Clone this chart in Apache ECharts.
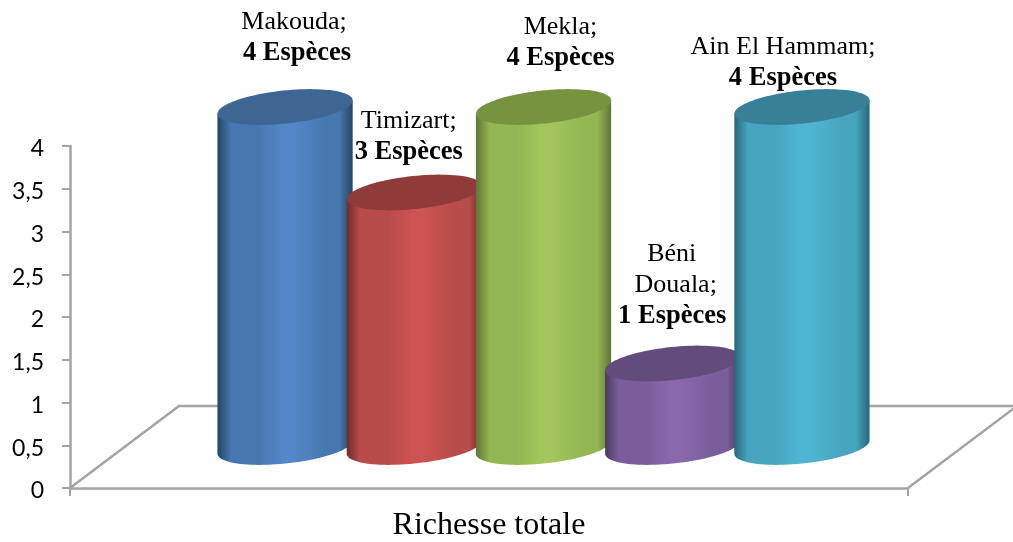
<!DOCTYPE html>
<html>
<head>
<meta charset="utf-8">
<style>html,body{margin:0;padding:0;background:#fff}#c{width:1013px;height:542px}</style>
<script src="https://cdn.jsdelivr.net/npm/echarts@6/dist/echarts.min.js"></script>
</head>
<body>
<div id="c"></div>
<script>
const axisCategory = ['Richesse totale'];
const communes = ['Makouda', 'Timizart', 'Mekla', 'Béni\nDouala', 'Ain El Hammam'];
const especes = [4, 3, 4, 1, 4];
const unite = 'Espèces';
const yTicks = [0, 0.5, 1, 1.5, 2, 2.5, 3, 3.5, 4];

// style: [edge dark, mid, bright, top cap]
const palettes = [
  ['#254666', '#4677ae', '#5387c9', '#3e6693'],
  ['#6e2c2b', '#b84c4b', '#cc5452', '#8e3b39'],
  ['#5f7533', '#93b553', '#a3c55c', '#78933f'],
  ['#49395f', '#7a5e9b', '#8a68ab', '#624c7b'],
  ['#27667a', '#47a5c0', '#50b5d2', '#388097']
];
// label placement relative to the top of each cylinder: name dx, second-line dx, bold dx, bold-line dy
const labelPlace = [[9, 9, 12, -54], [-5.5, -5.5, -5.5, -40], [17, 17, 17, -49], [-1, 3, -0.5, -47.5], [-19, -19, -19, -29]];

const DEPTH_X = 109, DEPTH_Y = -82;
const SPACING = 0.1542, RADIUS = 0.0811, TILT = 6 * Math.PI / 180, RY = 16.5;
const LINE = '#a3a3a3';

function ellipsePt(cx, cy, a, b, t) {
  return [
    cx + a * Math.cos(t) * Math.cos(TILT) + b * Math.sin(t) * Math.sin(TILT),
    cy - a * Math.cos(t) * Math.sin(TILT) + b * Math.sin(t) * Math.cos(TILT)
  ];
}

function renderCylinder(i) {
  return function (params, api) {
    const base = api.coord([api.value(0), 0]);
    const top = api.coord([api.value(0), api.value(1)]);
    const w = api.size([1, 0])[0];
    const cx = base[0] + DEPTH_X / 2 + (i - 2) * SPACING * w;
    const by = base[1] + DEPTH_Y / 2;
    const ty = top[1] + DEPTH_Y / 2 + 2;
    const a = RADIUS * w, b = RY;
    const t0 = Math.atan2(b * Math.sin(TILT), a * Math.cos(TILT));
    const pts = [];
    for (let k = 0; k <= 48; k++) pts.push(ellipsePt(cx, by, a, b, t0 + Math.PI * k / 48));
    pts.push(ellipsePt(cx, ty, a, b, t0 + Math.PI));
    pts.push(ellipsePt(cx, ty, a, b, t0));
    const capPts = [];
    for (let k = 0; k < 96; k++) capPts.push(ellipsePt(cx, ty, a, b, 2 * Math.PI * k / 96));
    const p = palettes[i];
    const grad = {
      type: 'linear', x: 0, y: 0, x2: 1, y2: 0,
      colorStops: [
        { offset: 0, color: p[0] }, { offset: 0.1, color: p[1] },
        { offset: 0.3, color: p[1] }, { offset: 0.48, color: p[2] },
        { offset: 0.56, color: p[2] },
        { offset: 0.8, color: p[1] }, { offset: 0.9, color: p[1] }, { offset: 1, color: p[0] }
      ]
    };
    const pl = labelPlace[i];
    const lines = (communes[i] + ';').split('\n');
    const boldY = ty + pl[3];
    const kids = [
      { type: 'polygon', shape: { points: pts }, style: { fill: grad } },
      { type: 'polygon', shape: { points: capPts }, style: { fill: p[3] } },
      { type: 'text', style: { text: api.value(1) + ' ' + unite, x: cx + pl[2], y: boldY, align: 'center', verticalAlign: 'middle',
          font: 'bold 26.5px "Liberation Serif"', fill: '#000' }, z2: 10 }
    ];
    lines.forEach(function (ln, n) {
      kids.push({ type: 'text', style: { text: ln, x: cx + pl[n === 1 ? 1 : 0], y: boldY - 31 * (lines.length - n),
        align: 'center', verticalAlign: 'middle', font: '26px "Liberation Serif"', fill: '#000' }, z2: 10 });
    });
    return { type: 'group', children: kids };
  };
}

function renderFloor(params, api) {
  const o = api.coord([0, 0]);
  const w = api.size([1, 0])[0];
  const x0 = o[0] - w / 2, y0 = o[1], x1 = o[0] + w / 2;
  return { type: 'group', children: [
    { type: 'polyline', shape: { points: [[x0, y0], [x0 + DEPTH_X, y0 + DEPTH_Y], [x1 + DEPTH_X, y0 + DEPTH_Y], [x1, y0]] },
      style: { stroke: LINE, lineWidth: 2.5, fill: null } }
  ] };
}

const series = [{ type: 'custom', name: 'floor', silent: true, clip: false, renderItem: renderFloor,
  encode: { x: 0, y: 1 }, data: [[0, 0]] }];
communes.forEach(function (c, i) {
  series.push({ type: 'custom', name: c, silent: true, clip: false, renderItem: renderCylinder(i),
    encode: { x: 0, y: 1 }, data: [[0, especes[i]]] });
});

const chart = echarts.init(document.getElementById('c'), null, { renderer: 'canvas' });
chart.setOption({
  animation: false,
  backgroundColor: '#fff',
  grid: { left: 70, right: 105, top: 146, bottom: 53, containLabel: false },
  xAxis: {
    type: 'category', data: axisCategory,
    axisLine: { lineStyle: { color: LINE, width: 2.5 } },
    axisTick: { show: true, length: 8, lineStyle: { color: LINE, width: 2 } },
    axisLabel: { color: '#000', fontFamily: 'Liberation Serif', fontSize: 32, margin: 22 }
  },
  yAxis: {
    type: 'value', min: yTicks[0], max: yTicks[yTicks.length - 1], interval: yTicks[1] - yTicks[0],
    axisLine: { show: true, lineStyle: { color: LINE, width: 2.5 } },
    axisTick: { show: true, length: 8, lineStyle: { color: LINE, width: 2 } },
    splitLine: { show: false },
    axisLabel: { color: '#000', margin: 26,
      rich: { n: { fontFamily: 'Lato', fontSize: 23, color: '#000', lineHeight: 26, padding: [6, 0, 0, 0] } },
      formatter: function (v) { return '{n|' + String(v).replace('.', ',') + '}'; } }
  },
  series: series
});
</script>
</body>
</html>
